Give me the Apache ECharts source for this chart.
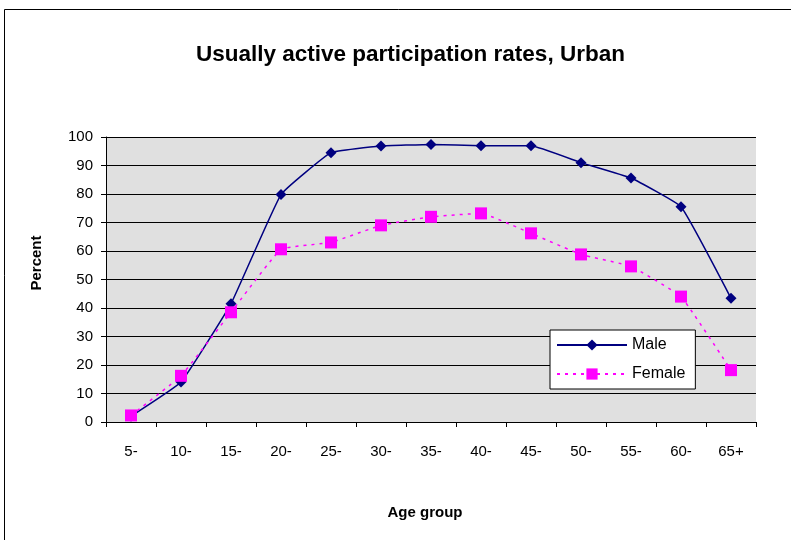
<!DOCTYPE html>
<html>
<head>
<meta charset="utf-8">
<script src="https://cdn.jsdelivr.net/npm/echarts@6/dist/echarts.min.js"></script>
<style>
  html, body { margin: 0; padding: 0; background: #fff; }
  #chart { width: 791px; height: 540px; }
</style>
</head>
<body>
<div id="chart"></div>
<script>
const ageGroups = ['5-', '10-', '15-', '20-', '25-', '30-', '35-', '40-', '45-', '50-', '55-', '60-', '65+'];
const maleRates = [2, 14, 41.5, 79.8, 94.5, 96.8, 97.4, 96.9, 96.9, 91, 85.6, 75.5, 43.4];
const femaleRates = [2.3, 16.2, 38.5, 60.6, 63, 69, 72, 73.2, 66.2, 58.8, 54.6, 44, 18.2];
const percentTicks = [0, 10, 20, 30, 40, 50, 60, 70, 80, 90, 100];

const chart = echarts.init(document.getElementById('chart'));
const font = 'Liberation Sans, Arial, sans-serif';

chart.setOption({
  backgroundColor: '#fff',
  animation: false,
  textStyle: { fontFamily: font },
  graphic: [
    {
      type: 'rect',
      shape: { x: 4.5, y: 9.5, width: 900, height: 700 },
      style: { fill: 'none', stroke: '#000', lineWidth: 1 },
      silent: true
    },
    {
      // y axis title, centred a little above the plot middle as in the original
      type: 'text',
      x: 37,
      y: 263,
      rotation: Math.PI / 2,
      style: {
        text: 'Percent',
        fill: '#000',
        font: 'bold 15px ' + font,
        textAlign: 'center',
        textVerticalAlign: 'middle'
      },
      silent: true
    },
    {
      type: 'text',
      x: 425,
      y: 513,
      style: {
        text: 'Age group',
        fill: '#000',
        font: 'bold 15px ' + font,
        textAlign: 'center',
        textVerticalAlign: 'middle'
      },
      silent: true
    }
  ],
  title: {
    text: 'Usually active participation rates, Urban',
    left: 191,
    top: 38,
    textStyle: { fontSize: 22.5, fontWeight: 'bold', color: '#000', fontFamily: font }
  },
  legend: {
    orient: 'vertical',
    left: 550,
    top: 330,
    backgroundColor: '#fff',
    borderColor: '#000',
    borderWidth: 1,
    borderRadius: 0,
    padding: [7, 10, 7, 6],
    itemWidth: 70,
    itemHeight: 14,
    itemGap: 13,
    textStyle: { fontSize: 16, color: '#000', fontFamily: font },
    data: ['Male', 'Female']
  },
  grid: {
    left: 106,
    top: 137,
    right: 35,
    bottom: 118,
    show: true,
    backgroundColor: '#e0e0e0',
    borderWidth: 0
  },
  xAxis: {
    type: 'category',
    data: ageGroups,
    boundaryGap: true,
    axisLine: { show: true, lineStyle: { color: '#000', width: 1 } },
    axisTick: { show: true, length: 5, alignWithLabel: false, lineStyle: { color: '#000' } },
    axisLabel: { color: '#000', fontSize: 15, margin: 22, fontFamily: font },
    splitLine: { show: false }
  },
  yAxis: {
    type: 'value',
    min: percentTicks[0],
    max: percentTicks[percentTicks.length - 1],
    interval: 10,
    axisLine: { show: true, lineStyle: { color: '#000', width: 1 } },
    axisTick: { show: true, length: 5, lineStyle: { color: '#000' } },
    axisLabel: { color: '#000', fontSize: 15, margin: 13, fontFamily: font },
    splitLine: { show: true, lineStyle: { color: '#000', width: 1 } }
  },
  series: [
    {
      name: 'Male',
      type: 'line',
      data: maleRates,
      smooth: 0.1,
      symbol: 'diamond',
      symbolSize: 11,
      itemStyle: { color: '#000080' },
      lineStyle: { color: '#000080', width: 1.5 },
      z: 3
    },
    {
      name: 'Female',
      type: 'line',
      data: femaleRates,
      smooth: 0.1,
      symbol: 'rect',
      symbolSize: 12,
      itemStyle: { color: '#ff00ff' },
      lineStyle: { color: '#ff00ff', width: 1.5, type: [3, 5] },
      z: 4
    }
  ]
});
</script>
</body>
</html>
